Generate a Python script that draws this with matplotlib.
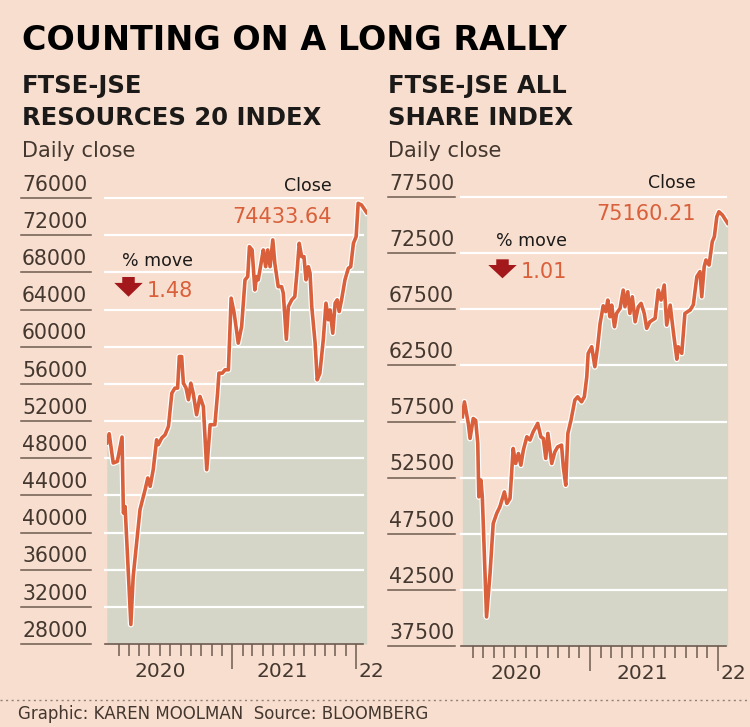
import matplotlib
matplotlib.use("Agg")
import matplotlib.pyplot as plt
import matplotlib.patheffects as pe
from matplotlib.lines import Line2D
from matplotlib.patches import Polygon
import pandas as pd

W, H = 750, 727
BG = "#f8dece"
FILL = "#d5d6c8"
LINE = "#d9603b"
INK = "#1c1a19"
SOFT = "#43372f"
RULE = "#6e5b50"
ARROW = "#a3191b"

# FTSE-JSE Resources 20: days since 2020-01-01, daily close
res_days = [-5, 2, 14, 26, 40, 44, 49, 66, 73, 83, 93, 108, 116, 123, 132, 142,
            147, 157, 167, 177, 187, 196, 204, 209, 216, 221, 229, 236, 243, 250,
            260, 270, 280, 290, 300, 314, 322, 326, 336, 344, 354, 362, 371, 383,
            393, 403, 411, 416, 424, 432, 437, 442, 452, 457, 464, 470, 477, 485,
            491, 501, 511, 516, 525, 531, 541, 550, 557, 563, 570, 577, 583, 590,
            595, 600, 610, 616, 624, 634, 642, 649, 654, 662, 669, 675, 681, 688,
            698, 708, 715, 723, 731, 737, 747, 762]
res_close = [49630, 50630, 47480, 47650, 50270, 42100, 42800, 30100, 35300, 38880,
             42460, 44600, 45870, 44970, 46760, 49980, 49450, 50170, 50520, 51420,
             55000, 55540, 55540, 58940, 58940, 56080, 55540, 54290, 56080, 55000,
             52670, 54640, 53570, 46760, 51600, 51600, 55000, 57150, 57150, 57510,
             57510, 65220, 63610, 60380, 62170, 67190, 67540, 70760, 70410, 66110,
             67540, 67190, 69330, 70410, 68610, 70410, 68610, 71490, 68970, 66460,
             66460, 65750, 60800, 64320, 65040, 65390, 68260, 71130, 69690, 69690,
             67190, 68610, 67900, 64320, 60380, 56430, 57150, 60740, 64680, 62890,
             63960, 61450, 64680, 65040, 63780, 65040, 67190, 68440, 68610, 71130,
             71840, 75430, 75250, 74434]

# FTSE-JSE All Share: days since 2020-01-01, daily close
alsi_days = [1, 7, 18, 23, 32, 39, 45, 48, 54, 58, 70, 80, 89, 99, 108, 121, 128,
             137, 146, 153, 161, 168, 175, 185, 194, 203, 216, 225, 232, 239, 245,
             256, 265, 273, 284, 289, 296, 302, 311, 322, 330, 341, 349, 356, 360,
             370, 379, 387, 394, 403, 410, 416, 422, 427, 435, 441, 451, 460, 465,
             473, 479, 486, 494, 503, 511, 520, 527, 536, 551, 560, 568, 577, 584,
             594, 603, 613, 617, 627, 636, 651, 660, 670, 679, 684, 691, 696, 705,
             714, 720, 727, 733, 743, 758]
alsi_close = [57920, 59250, 57330, 55990, 57770, 57600, 55550, 50790, 52280, 50790,
              40090, 43960, 48410, 49310, 49900, 51230, 50200, 50650, 55100, 53760,
              54650, 53610, 54950, 56140, 55850, 56580, 57330, 56140, 55990, 54210,
              56440, 53760, 54800, 55240, 55400, 53470, 51830, 56440, 57620, 59410,
              59700, 59250, 59700, 61480, 63570, 64160, 62380, 64160, 66240, 67810,
              67280, 68320, 66830, 67870, 65940, 67130, 67580, 69210, 67720, 69060,
              67130, 68610, 66380, 67720, 68030, 67130, 65800, 66380, 66690, 69210,
              68320, 69660, 66090, 67870, 65500, 63050, 64160, 63570, 67130, 67430,
              67900, 70400, 70850, 68610, 71290, 71890, 71440, 73520, 73960, 75740,
              76190, 75900, 75160]

res_ticks = [28000, 32000, 36000, 40000, 44000, 48000, 52000, 56000, 60000,
             64000, 68000, 72000, 76000]
alsi_ticks = [37500, 42500, 47500, 52500, 57500, 62500, 67500, 72500, 77500]

year_labels = ["2020", "2021"]
year_label_dates = ["2020-06-03", "2021-05-28"]
major_dates = ["2021-01-01", "2022-01-01"]

plt.rcParams["font.family"] = ["DejaVu Sans"]


def fx(px):
    return px / W


def fy(py):
    return 1 - py / H


def to_dates(days):
    return pd.Timestamp("2020-01-01") + pd.to_timedelta(days, unit="D")


def down_arrow(fig, x0, x1, y0, y1):
    """Filled down arrow inside the pixel box (x0, y0)-(x1, y1)."""
    xm = (x0 + x1) / 2
    sw = (x1 - x0) * 0.22
    ys = y0 + (y1 - y0) * 0.3
    pts = [(xm - sw, y0), (xm + sw, y0), (xm + sw, ys), (x1, ys), (xm, y1),
           (x0, ys), (xm - sw, ys)]
    fig.add_artist(Polygon([(fx(a), fy(b)) for a, b in pts], closed=True,
                           facecolor=ARROW, edgecolor="none",
                           transform=fig.transFigure))


def panel(fig, days, close, ticks, box, day_lim, label_x, rule_x, grid_x,
          last_txt, note):
    px0, px1, py0, py1 = box
    ax = fig.add_axes([fx(px0), fy(py1), fx(px1) - fx(px0), fy(py0) - fy(py1)])
    ax.set_facecolor("none")
    dates = to_dates(days)
    ax.fill_between(dates, close, ticks[0], color=FILL, lw=0, zorder=1)
    ax.plot(dates, close, color=LINE, lw=2.6, zorder=3, solid_joinstyle="round",
            path_effects=[pe.Stroke(linewidth=4.3, foreground="white"), pe.Normal()])
    ax.set_xlim(to_dates(day_lim[0]), to_dates(day_lim[1]))
    ax.set_ylim(ticks[0], ticks[-1])

    g0 = (grid_x[0] - px0) / (px1 - px0)
    g1 = (grid_x[1] - px0) / (px1 - px0)
    for v in ticks[1:]:
        ax.axhline(v, g0, g1, color="white", lw=1.6, zorder=2, clip_on=False)
    ax.add_line(Line2D([g0, g1], [0, 0], transform=ax.transAxes, color=RULE,
                       lw=1.2, clip_on=False, zorder=4))

    # tick labels sitting on short dark rules to the left
    for v in ticks:
        ax.add_line(Line2D([fx(rule_x[0]), fx(rule_x[1])], [v, v], color=RULE, lw=1.1,
                           transform=ax.get_yaxis_transform().__class__(
                               fig.transFigure, ax.transData),
                           clip_on=False))
        ax.annotate(f"{v}", xy=(fx(label_x), v), xycoords=("figure fraction", "data"),
                    xytext=(0, 5.2), textcoords="offset points", ha="left",
                    va="baseline", fontsize=14.8, color=SOFT)

    for s in ax.spines.values():
        s.set_visible(False)
    ax.set_yticks([])
    ax.set_xticks(pd.to_datetime(major_dates))
    minors = pd.date_range("2020-02-01", "2021-12-01", freq="MS")
    minors = minors[minors.month != 1]
    ax.set_xticks(minors, minor=True)
    ax.tick_params(axis="x", which="major", length=18, width=1.1, color=RULE,
                   labelbottom=False)
    ax.tick_params(axis="x", which="minor", length=8.5, width=1.1, color=RULE)

    for lab, d in zip(year_labels, year_label_dates):
        ax.annotate(lab, xy=(pd.Timestamp(d), 0), xycoords=("data", "axes fraction"),
                    xytext=(0, -24), textcoords="offset points", ha="center",
                    va="baseline", fontsize=14.5, color=SOFT)
    ax.annotate("22", xy=(pd.Timestamp(major_dates[1]), 0),
                xycoords=("data", "axes fraction"), xytext=(2, -24),
                textcoords="offset points", ha="left", va="baseline",
                fontsize=14.5, color=SOFT)

    # annotations: close value and % move
    cx, cy_close, cy_val, mx, my_move, my_val, arrow_box = note
    fig.text(fx(cx), fy(cy_close), "Close", ha="right", va="baseline",
             fontsize=12.5, color=INK)
    fig.text(fx(cx), fy(cy_val), last_txt[0], ha="right", va="baseline",
             fontsize=15, color=LINE)
    fig.text(fx(mx), fy(my_move), "% move", ha="right", va="baseline",
             fontsize=12.5, color=INK)
    fig.text(fx(mx), fy(my_val), last_txt[1], ha="right", va="baseline",
             fontsize=15, color=LINE)
    down_arrow(fig, *arrow_box)
    return ax


fig = plt.figure(figsize=(W / 100, H / 100), dpi=100, facecolor=BG)

fig.text(fx(22), fy(50), "COUNTING ON A LONG RALLY", fontsize=24,
         fontweight="bold", color="black", va="baseline")
fig.text(fx(22), fy(93), "FTSE-JSE", fontsize=17.5, fontweight="bold", color=INK,
         va="baseline")
fig.text(fx(22), fy(125), "RESOURCES 20 INDEX", fontsize=17.5, fontweight="bold",
         color=INK, va="baseline")
fig.text(fx(388), fy(93), "FTSE-JSE ALL", fontsize=17.5, fontweight="bold",
         color=INK, va="baseline")
fig.text(fx(388), fy(125), "SHARE INDEX", fontsize=17.5, fontweight="bold",
         color=INK, va="baseline")
fig.text(fx(22), fy(157), "Daily close", fontsize=15, color=SOFT, va="baseline")
fig.text(fx(388), fy(157), "Daily close", fontsize=15, color=SOFT, va="baseline")

panel(fig, res_days, res_close, res_ticks,
      box=(106.7, 366.7, 198, 644), day_lim=(-5.3, 762.2),
      label_x=22, rule_x=(21, 91), grid_x=(105, 363),
      last_txt=("74433.64", "1.48"),
      note=(332, 191, 223, 193, 266, 297, (114.3, 142.7, 277, 296.7)))

panel(fig, alsi_days, alsi_close, alsi_ticks,
      box=(462, 728.3, 197, 646), day_lim=(0, 759.8),
      label_x=389, rule_x=(388, 455), grid_x=(461, 726),
      last_txt=("75160.21", "1.01"),
      note=(696, 188, 220, 567, 246, 278, (488.3, 516.7, 259.3, 278.3)))

fig.add_artist(Line2D([0, 1], [fy(700), fy(700)], transform=fig.transFigure,
                      color="#8f8078", lw=1, linestyle=(0, (1.5, 2.5))))
fig.text(fx(18), fy(719), "Graphic: KAREN MOOLMAN  Source: BLOOMBERG",
         fontsize=12, color=SOFT, va="baseline")

fig.savefig("out.png", dpi=100, facecolor=BG)
